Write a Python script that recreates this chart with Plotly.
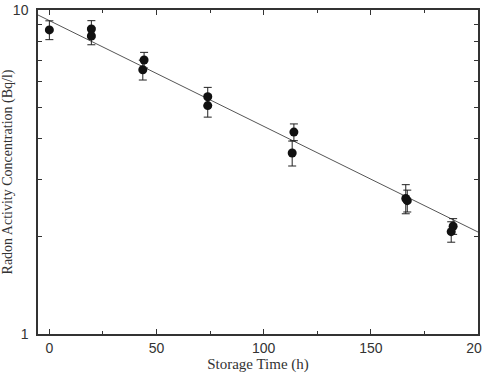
import plotly.graph_objects as go

# Measured data
time_h = [0, 19.6, 19.6, 44.2, 43.6, 73.9, 73.9, 114.1, 113.3, 166.3, 167.0, 188.4, 187.5]
conc = [8.68, 8.74, 8.31, 7.01, 6.54, 5.40, 5.07, 4.20, 3.62, 2.62, 2.58, 2.15, 2.07]
err = [0.58, 0.53, 0.50, 0.39, 0.46, 0.37, 0.40, 0.25, 0.32, 0.27, 0.20, 0.12, 0.15]

# Fitted decay line (end points)
fit_time = [-5.3, 200]
fit_conc = [9.65, 2.064]

x_ticks = [0, 50, 100, 150, 200]
x_minor = [25, 75, 125, 175]
y_ticks = [1, 10]
y_minor = [2, 3, 4, 5, 6, 7, 8, 9]

axis_col = "#333333"

fig = go.Figure()
fig.add_trace(go.Scatter(
    x=fit_time, y=fit_conc, mode="lines",
    line=dict(color="#555555", width=1), hoverinfo="skip", showlegend=False))
fig.add_trace(go.Scatter(
    x=time_h, y=conc, mode="markers",
    marker=dict(color="#111111", size=9),
    error_y=dict(type="data", array=err, color="#222222", thickness=1, width=4),
    showlegend=False))

fig.update_layout(
    width=482, height=373,
    margin=dict(l=38, r=4, t=10, b=39),
    paper_bgcolor="white", plot_bgcolor="white",
    font=dict(family="Liberation Sans, Arial", size=14, color=axis_col),
    xaxis=dict(
        range=[-5.3, 200], tickvals=x_ticks, ticktext=[str(v) for v in x_ticks],
        ticks="inside", ticklen=5, tickwidth=1.2, tickcolor=axis_col,
        showline=True, linecolor=axis_col, linewidth=1.5, mirror="ticks",
        showgrid=False, zeroline=False, ticklabeloverflow="allow", automargin=False,
        minor=dict(tickvals=x_minor, ticks="inside", ticklen=3, tickwidth=1.2, tickcolor=axis_col, showgrid=False),
        title=dict(text="Storage Time (h)", font=dict(family="Liberation Serif, Times New Roman", size=15, color=axis_col), standoff=6),
        tickfont=dict(size=14, color=axis_col),
    ),
    yaxis=dict(
        type="log", range=[0, 1], tickvals=y_ticks, ticktext=[str(v) for v in y_ticks],
        ticks="inside", ticklen=5, tickwidth=1.2, tickcolor=axis_col,
        showline=True, linecolor=axis_col, linewidth=1.5, mirror="ticks",
        showgrid=False, zeroline=False, ticklabelstandoff=5, automargin=False,
        minor=dict(tickvals=y_minor, ticks="inside", ticklen=4, tickwidth=1.2, tickcolor=axis_col, showgrid=False),
        title=dict(text="Radon Activity Concentration (Bq/l)", font=dict(family="Liberation Serif, Times New Roman", size=14, color=axis_col), standoff=0),
        tickfont=dict(size=14, color=axis_col),
    ),
)

fig.write_html("out.html")
